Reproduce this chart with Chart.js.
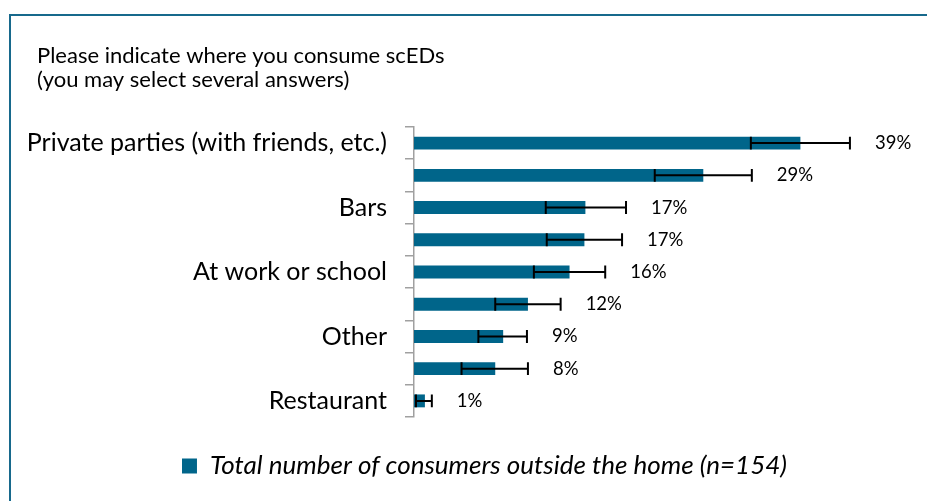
<!DOCTYPE html>
<html>
<head>
<meta charset="utf-8">
<script src="https://cdn.jsdelivr.net/npm/chart.js@4.4.1/dist/chart.umd.min.js"></script>
<style>
  html, body { margin: 0; padding: 0; background: #ffffff; overflow: hidden; }
  #frame { position: absolute; left: 9px; top: 14px; width: 1000px; height: 600px;
           border-top: 2px solid #17698c; border-left: 2px solid #17698c; }
  #wrap { position: absolute; left: 0; top: 0; width: 960px; height: 501px; }
</style>
</head>
<body>
<div id="frame"></div>
<div id="wrap"><canvas id="c"></canvas></div>
<script>
// ---- data ----
const categories = ['Private parties (with friends, etc.)', '', 'Bars', '', 'At work or school', '', 'Other', '', 'Restaurant'];
const values     = [39.0, 29.2, 17.3, 17.2, 15.7, 11.5, 9.0, 8.2, 1.1];
const errLow     = [34.0, 24.3, 13.3, 13.4, 12.1, 8.2, 6.5, 4.8, 0.2];
const errHigh    = [44.0, 34.1, 21.4, 21.0, 19.3, 14.8, 11.4, 11.5, 1.8];
const seriesName = 'Total number of consumers outside the home (n=154)';
const titleLines = ['Please indicate where you consume scEDs', '(you may select several answers)'];
const xMax = 54;

const BAR = '#00658a';
const FONT = 'Lato';

const titleIndentPlugin = {
  id: 'titleIndent',
  afterLayout(chart) {
    if (chart.titleBlock) { chart.titleBlock.left = 37; }
  }
};

const errorBarsPlugin = {
  id: 'errorBars',
  afterDatasetsDraw(chart) {
    const meta = chart.getDatasetMeta(0);
    const xs = chart.scales.x;
    const ctx = chart.ctx;
    ctx.save();
    ctx.strokeStyle = '#000000';
    ctx.lineWidth = 2;
    meta.data.forEach((bar, i) => {
      const y = bar.y;
      const h = bar.height / 2;
      const x1 = xs.getPixelForValue(errLow[i]);
      const x2 = xs.getPixelForValue(errHigh[i]);
      ctx.beginPath();
      ctx.moveTo(x1, y); ctx.lineTo(x2, y);
      ctx.moveTo(x1, y - h); ctx.lineTo(x1, y + h);
      ctx.moveTo(x2, y - h); ctx.lineTo(x2, y + h);
      ctx.stroke();
    });
    // value labels
    ctx.fillStyle = '#000000';
    ctx.font = '18.5px ' + FONT;
    ctx.textAlign = 'left';
    ctx.textBaseline = 'middle';
    meta.data.forEach((bar, i) => {
      const x = xs.getPixelForValue(errHigh[i]) + 25;
      ctx.fillText(Math.round(values[i]) + '%', x, bar.y);
    });
    ctx.restore();
  }
};

new Chart(document.getElementById('c'), {
  type: 'bar',
  data: {
    labels: categories,
    datasets: [{
      label: seriesName,
      data: values,
      backgroundColor: BAR,
      borderWidth: 0,
      barPercentage: 0.4,
      categoryPercentage: 1.0
    }]
  },
  options: {
    indexAxis: 'y',
    responsive: true,
    maintainAspectRatio: false,
    animation: false,
    layout: { padding: { left: 20, right: 11, top: 0, bottom: 12 } },
    scales: {
      x: { display: false, min: 0, max: xMax },
      y: {
        afterFit(s) { s.width = 394; },
        border: { display: true, color: '#a0a0a0', width: 1.5 },
        grid: { drawOnChartArea: false, drawTicks: true, tickLength: 9, color: '#a0a0a0', lineWidth: 1.5, offset: true },
        ticks: { autoSkip: false, padding: 18, color: '#000000', font: { family: FONT, size: 25 } }
      }
    },
    plugins: {
      tooltip: { enabled: false },
      title: {
        display: true,
        text: titleLines,
        align: 'start',
        color: '#000000',
        font: { family: FONT, size: 22, weight: 'normal', lineHeight: 1.0909 },
        padding: { top: 44, bottom: 35 }
      },
      legend: {
        display: true,
        position: 'bottom',
        labels: {
          boxWidth: 15, boxHeight: 15, padding: 36,
          color: '#000000',
          font: { family: FONT, size: 26, style: 'italic' }
        }
      }
    }
  },
  plugins: [titleIndentPlugin, errorBarsPlugin]
});
</script>
</body>
</html>
